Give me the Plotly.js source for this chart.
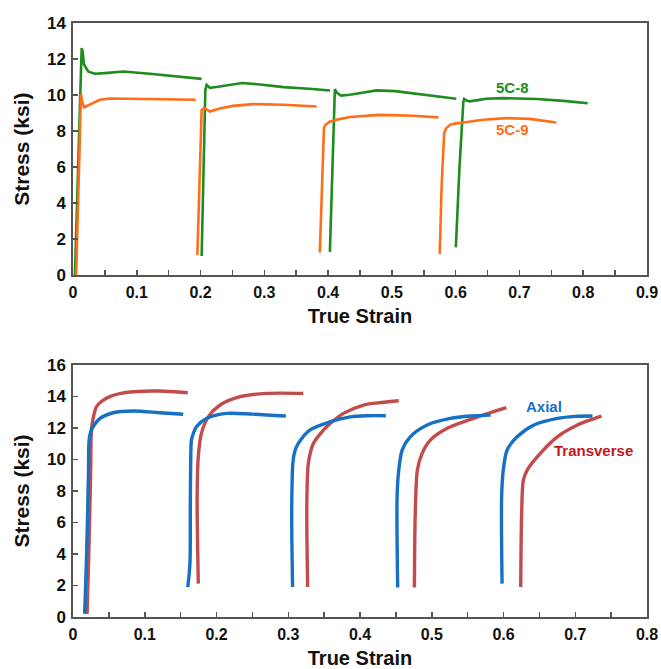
<!DOCTYPE html>
<html>
<head>
<meta charset="utf-8">
<script src="https://cdn.plot.ly/plotly-3.0.1.min.js"></script>
<style>html,body{margin:0;padding:0;background:#fff}#chart{width:661px;height:669px}</style>
</head>
<body>
<div id="chart"></div>
<script>
// ---- Top panel: specimens 5C-8 and 5C-9 (segments separated by null) ----
const c8Strain = [0.003,0.008,0.012,0.0136,0.015,0.0172,0.024,0.0345,0.05,0.079,0.12,0.162,0.2017,null,
  0.2017,0.204,0.2075,0.2095,0.212,0.2147,0.225,0.251,0.265,0.29,0.33,0.37,0.403,null,
  0.4028,0.406,0.4095,0.4106,0.414,0.42,0.434,0.455,0.476,0.505,0.533,0.575,0.601,null,
  0.6003,0.606,0.612,0.6133,0.617,0.622,0.635,0.648,0.674,0.7,0.727,0.769,0.807];
const c8Stress = [0,6,11.5,12.61,12.45,11.7,11.3,11.18,11.22,11.31,11.18,11.03,10.9,null,
  1.07,5.5,10.3,10.57,10.5,10.4,10.45,10.62,10.67,10.6,10.44,10.35,10.25,null,
  1.3,5.5,9.9,10.33,10.12,9.97,10.02,10.15,10.26,10.22,10.1,9.92,9.8,null,
  1.55,6,9.6,9.78,9.7,9.65,9.72,9.8,9.83,9.82,9.78,9.68,9.55];
const c9Strain = [0.005,0.008,0.011,0.0125,0.0145,0.0177,0.025,0.042,0.058,0.0935,0.14,0.192,null,
  0.195,0.198,0.2017,0.2053,0.2147,0.23,0.251,0.2827,0.33,0.382,null,
  0.387,0.39,0.3935,0.396,0.403,0.42,0.434,0.481,0.533,0.573,null,
  0.575,0.578,0.582,0.585,0.591,0.6,0.612,0.643,0.68,0.716,0.758];
const c9Stress = [0,4,8,10.05,9.6,9.33,9.45,9.74,9.81,9.81,9.77,9.74,null,
  1.13,5,9.18,9.28,9.09,9.25,9.4,9.5,9.46,9.37,null,
  1.26,5,8.2,8.35,8.53,8.68,8.78,8.9,8.85,8.76,null,
  1.18,5,7.9,8.15,8.35,8.43,8.48,8.63,8.72,8.68,8.48];

// ---- Bottom panel: Axial and Transverse ----
const axStrain = [0.0163,0.019,0.0215,0.0224,0.025,0.028,0.0373,0.056,0.084,0.121,0.1536,null,
  0.16,0.163,0.1635,0.164,0.165,0.168,0.172,0.186,0.214,0.25,0.2966,null,
  0.306,0.305,0.305,0.3064,0.309,0.314,0.33,0.3585,0.3864,0.41,0.436,null,
  0.4525,0.4517,0.454,0.4587,0.47,0.4936,0.526,0.554,0.582,null,
  0.598,0.5974,0.5997,0.605,0.619,0.6425,0.675,0.70,0.724];
const axStress = [0.2,4,9,11.2,11.8,12.08,12.6,12.97,13.08,12.97,12.87,null,
  1.9,3.4,7,9.75,11.2,11.7,12.08,12.6,12.93,12.88,12.76,null,
  1.9,5,7.63,9.75,10.5,11.02,11.87,12.4,12.71,12.78,12.78,null,
  1.87,7.63,9.33,10.6,11.44,12.19,12.61,12.76,12.82,null,
  2.12,7.63,9.33,10.6,11.44,12.19,12.61,12.74,12.76];
const trStrain = [0.0196,0.022,0.0245,0.0257,0.028,0.0327,0.04,0.0513,0.065,0.084,0.121,0.16,null,
  0.1746,0.1735,0.173,0.1746,0.179,0.1885,0.205,0.233,0.27,0.321,null,
  0.327,0.326,0.326,0.328,0.335,0.349,0.3585,0.377,0.405,0.43,0.454,null,
  0.4758,0.477,0.48,0.4866,0.498,0.5215,0.554,0.58,0.604,null,
  0.624,0.6253,0.6277,0.633,0.647,0.675,0.703,0.72,0.7366];
const trStress = [0.2,4,9,11.87,12.6,13.35,13.7,13.99,14.18,14.3,14.35,14.24,null,
  2.12,5,7.63,10.17,11.66,12.71,13.46,13.99,14.2,14.2,null,
  1.9,5,7.63,9.75,11.02,11.87,12.29,12.93,13.46,13.62,13.73,null,
  1.87,6.57,9.33,10.39,11.23,11.98,12.55,12.95,13.29,null,
  1.9,6.57,8.69,9.33,10.17,11.44,12.19,12.5,12.76];

const topTicks = [0,0.1,0.2,0.3,0.4,0.5,0.6,0.7,0.8,0.9];
const botTicks = [0,0.1,0.2,0.3,0.4,0.5,0.6,0.7,0.8];

const FONT = 'Liberation Sans, Arial, sans-serif';
const traces = [
  {x:c8Strain, y:c8Stress, xaxis:'x', yaxis:'y', mode:'lines', name:'5C-8', connectgaps:false,
   line:{color:'#1e8c1e', width:2.6}},
  {x:c9Strain, y:c9Stress, xaxis:'x', yaxis:'y', mode:'lines', name:'5C-9', connectgaps:false,
   line:{color:'#ff6d16', width:2.6}},
  {x:trStrain, y:trStress, xaxis:'x2', yaxis:'y2', mode:'lines', name:'Transverse', connectgaps:false,
   line:{color:'#c24b4b', width:3.4, shape:'spline', smoothing:0.8}},
  {x:axStrain, y:axStress, xaxis:'x2', yaxis:'y2', mode:'lines', name:'Axial', connectgaps:false,
   line:{color:'#1570c6', width:3.4, shape:'spline', smoothing:0.8}}
];

function xAx(range, ticks, anchor) {
  return {range:range, anchor:anchor, tickvals:ticks, ticktext:ticks.map(String),
    ticks:'inside', ticklen:5, tickwidth:1.5, tickcolor:'#555',
    minor:{dtick:0.05, tick0:0, ticks:'inside', ticklen:5, tickwidth:1.5, tickcolor:'#555'},
    showline:true, linecolor:'#555', linewidth:1.6, mirror:true, showgrid:false, zeroline:false,
    tickfont:{family:FONT, size:16, color:'#111', weight:'bold'}, ticklabelstandoff:2,
    title:{text:'True Strain', font:{family:FONT, size:20, color:'#111', weight:'bold'}, standoff:9}};
}
function yAx(range, domain, anchor) {
  return {range:range, domain:domain, anchor:anchor, dtick:2, tick0:0,
    ticks:'inside', ticklen:5, tickwidth:1.5, tickcolor:'#555',
    showline:true, linecolor:'#555', linewidth:1.6, mirror:true, showgrid:false, zeroline:false,
    tickfont:{family:FONT, size:17, color:'#111', weight:'bold'}, ticklabelstandoff:2,
    title:{text:'Stress (ksi)', font:{family:FONT, size:21, color:'#111', weight:'bold'}, standoff:12}};
}

const layout = {
  width:661, height:669, showlegend:false,
  paper_bgcolor:'#fff', plot_bgcolor:'#fff',
  margin:{l:73, r:14, t:23, b:52},
  xaxis:xAx([0,0.9], topTicks, 'y'),
  yaxis:yAx([0,14], [0.5753,1], 'x'),
  xaxis2:xAx([0,0.8], botTicks, 'y2'),
  yaxis2:yAx([0,16], [0,0.4242], 'x2'),
  annotations:[
    {x:0.689, y:10.43, xref:'x', yref:'y', text:'5C-8', showarrow:false,
     font:{family:FONT, size:15, color:'#1e8c1e', weight:'bold'}},
    {x:0.689, y:8.09, xref:'x', yref:'y', text:'5C-9', showarrow:false,
     font:{family:FONT, size:15, color:'#ff6d16', weight:'bold'}},
    {x:0.657, y:13.38, xref:'x2', yref:'y2', text:'Axial', showarrow:false,
     font:{family:FONT, size:15, color:'#1570c6', weight:'bold'}},
    {x:0.726, y:10.6, xref:'x2', yref:'y2', text:'Transverse', showarrow:false,
     font:{family:FONT, size:15, color:'#c0181e', weight:'bold'}}
  ]
};
Plotly.newPlot('chart', traces, layout, {staticPlot:true, displayModeBar:false});
</script>
</body>
</html>
